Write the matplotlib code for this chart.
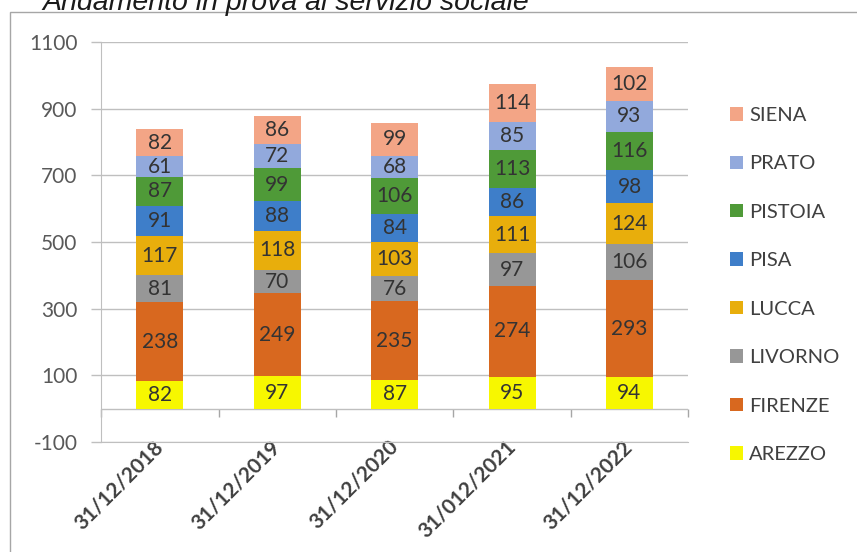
import matplotlib.pyplot as plt
import numpy as np
from matplotlib.patches import Rectangle

# data
dates = ["31/12/2018", "31/12/2019", "31/12/2020", "31/012/2021", "31/12/2022"]
provinces = ["AREZZO", "FIRENZE", "LIVORNO", "LUCCA", "PISA", "PISTOIA", "PRATO", "SIENA"]
arezzo = [82, 97, 87, 95, 94]
firenze = [238, 249, 235, 274, 293]
livorno = [81, 70, 76, 97, 106]
lucca = [117, 118, 103, 111, 124]
pisa = [91, 88, 84, 86, 98]
pistoia = [87, 99, 106, 113, 116]
prato = [61, 72, 68, 85, 93]
siena = [82, 86, 99, 114, 102]
y_ticks = [-100, 100, 300, 500, 700, 900, 1100]

series = [arezzo, firenze, livorno, lucca, pisa, pistoia, prato, siena]
colors = ["#F7F700", "#D8681F", "#979797", "#E8AE0C",
          "#3E7EC9", "#4F9A38", "#92A9DC", "#F3A586"]

plt.rcParams['font.family'] = ['Lato', 'DejaVu Sans']
plt.rcParams['axes.unicode_minus'] = False

fig = plt.figure(figsize=(8.57, 5.52), dpi=100)
ax = fig.add_axes([0.118, 0.199, 0.685, 0.725])

# outer chart frame, partly cut by the image edges
fig.patches.append(Rectangle((10 / 857, -0.1), 1.0, 1 - 12 / 552 + 0.1,
                             transform=fig.transFigure, fill=False,
                             edgecolor="#A6A6A6", linewidth=1.0))
fig.text(42 / 857, 1 - 10 / 552, "Andamento in prova al servizio sociale",
         fontsize=20.5, style="italic", family="Liberation Sans",
         color="#1a1a1a", va="baseline", ha="left")

x = np.arange(len(dates))
bottom = np.zeros(len(dates))
handles = []
for name, vals, col in zip(provinces, series, colors):
    bars = ax.bar(x, vals, 0.4, bottom=bottom, color=col, label=name, zorder=3)
    ax.bar_label(bars, labels=[str(v) for v in vals], label_type="center",
                 fontsize=15, color="#333333")
    handles.append(bars)
    bottom += np.array(vals)

ax.set_xlim(-0.5, len(dates) - 0.5)
ax.set_ylim(-100, 1100)
ax.set_yticks(y_ticks)
ax.tick_params(axis="y", labelsize=15, labelcolor="#595959", color="#BFBFBF",
               length=7, width=1, pad=10)
ax.grid(axis="y", color="#BFBFBF", linewidth=1, zorder=0)
ax.set_xticks(x)
ax.set_xticklabels(dates, rotation=45, ha="right", va="center",
                   rotation_mode="anchor", fontsize=15, fontweight="bold",
                   color="#404040")
ax.tick_params(axis="x", length=0, pad=1)
for s in ["top", "right"]:
    ax.spines[s].set_visible(False)
ax.spines["left"].set_color("#BFBFBF")
ax.spines["bottom"].set_color("#BFBFBF")

# category axis crossing at zero with boundary ticks
ax.axhline(0, color="#BFBFBF", linewidth=1, zorder=2)
sec = ax.secondary_xaxis(0, transform=ax.transData)
sec.set_xticks(np.arange(len(dates) + 1) - 0.5)
sec.set_xticklabels([])
sec.tick_params(length=6, width=1, color="#A6A6A6", direction="out")
sec.spines["bottom"].set_visible(False)

leg = ax.legend(handles[::-1], provinces[::-1], loc="upper left",
                bbox_to_anchor=(730 / 857, 1 - 107 / 552),
                bbox_transform=fig.transFigure, borderaxespad=0, borderpad=0,
                frameon=False, fontsize=14.5, labelcolor="#404040",
                handlelength=0.65, handleheight=0.65, handletextpad=0.3,
                labelspacing=1.56)

fig.savefig("out.png", dpi=100)
